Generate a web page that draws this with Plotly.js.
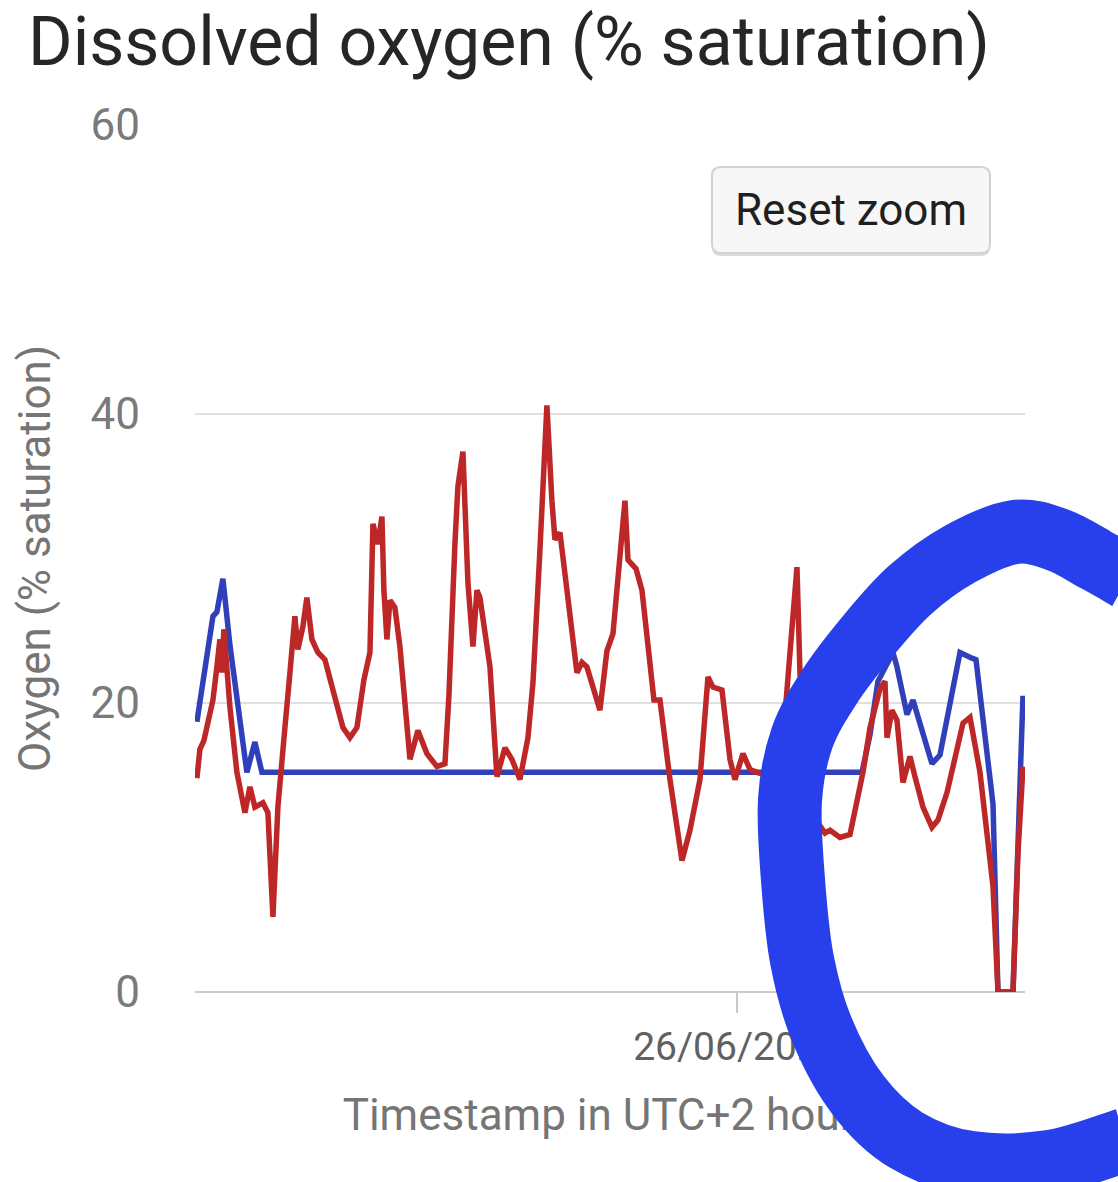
<!DOCTYPE html>
<html>
<head>
<meta charset="utf-8">
<script src="https://cdn.plot.ly/plotly-3.0.1.min.js"></script>
<style>
html,body{margin:0;padding:0;background:#fff;}
#wrap{position:relative;width:1118px;height:1182px;}
#chart,#overlay{position:absolute;left:0;top:0;width:1118px;height:1182px;}
#overlay{pointer-events:none;}
</style>
</head>
<body>
<div id="wrap"><div id="chart"></div><div id="overlay"></div></div>
<script>
// ---- data ----
const redTimes = [
"2021-06-19 11:51","2021-06-19 12:43","2021-06-19 13:52","2021-06-19 15:02","2021-06-19 16:29","2021-06-19 17:38","2021-06-19 18:30","2021-06-19 19:05","2021-06-19 19:39","2021-06-19 21:24","2021-06-19 23:25",
"2021-06-20 01:44","2021-06-20 03:11","2021-06-20 04:37","2021-06-20 06:56","2021-06-20 08:23","2021-06-20 09:50","2021-06-20 11:16","2021-06-20 12:26","2021-06-20 13:18","2021-06-20 14:45","2021-06-20 16:11","2021-06-20 17:03","2021-06-20 18:30","2021-06-20 19:39","2021-06-20 21:06","2021-06-20 22:50",
"2021-06-21 00:52","2021-06-21 03:11","2021-06-21 06:04","2021-06-21 08:06","2021-06-21 10:07","2021-06-21 12:08","2021-06-21 13:53","2021-06-21 14:45","2021-06-21 16:11","2021-06-21 17:21","2021-06-21 17:55","2021-06-21 18:47","2021-06-21 19:40","2021-06-21 21:06","2021-06-21 22:33",
"2021-06-22 01:27","2021-06-22 03:45","2021-06-22 06:21","2021-06-22 09:15","2021-06-22 11:34","2021-06-22 12:43","2021-06-22 14:27","2021-06-22 15:19","2021-06-22 16:46","2021-06-22 18:13","2021-06-22 19:40","2021-06-22 20:49","2021-06-22 21:41",
"2021-06-23 00:35","2021-06-23 02:36","2021-06-23 04:55","2021-06-23 06:56","2021-06-23 09:15","2021-06-23 11:34","2021-06-23 13:01","2021-06-23 15:02","2021-06-23 17:03","2021-06-23 18:30","2021-06-23 19:22","2021-06-23 20:49","2021-06-23 22:50",
"2021-06-24 00:35","2021-06-24 01:44","2021-06-24 03:11","2021-06-24 04:37","2021-06-24 08:23","2021-06-24 10:24","2021-06-24 12:09","2021-06-24 13:35","2021-06-24 15:37","2021-06-24 16:29","2021-06-24 18:48","2021-06-24 20:32",
"2021-06-25 00:00","2021-06-25 01:44","2021-06-25 04:38","2021-06-25 08:06","2021-06-25 10:25","2021-06-25 13:18","2021-06-25 15:37","2021-06-25 17:04","2021-06-25 19:40","2021-06-25 21:59","2021-06-25 23:25",
"2021-06-26 01:44","2021-06-26 03:46","2021-06-26 05:47","2021-06-26 08:06","2021-06-26 10:59","2021-06-26 13:18","2021-06-26 14:45","2021-06-26 15:54","2021-06-26 17:21","2021-06-26 18:13","2021-06-26 19:57","2021-06-26 22:33",
"2021-06-27 01:27","2021-06-27 02:54","2021-06-27 05:47","2021-06-27 08:41","2021-06-27 10:42","2021-06-27 12:26","2021-06-27 14:28","2021-06-27 16:29","2021-06-27 17:21","2021-06-27 18:48","2021-06-27 19:23","2021-06-27 20:49","2021-06-27 22:16",
"2021-06-28 00:00","2021-06-28 02:02","2021-06-28 03:28","2021-06-28 05:47","2021-06-28 08:23","2021-06-28 10:07","2021-06-28 12:44","2021-06-28 15:37","2021-06-28 17:21","2021-06-28 19:23","2021-06-28 20:15","2021-06-28 22:16",
"2021-06-29 02:02","2021-06-29 03:28","2021-06-29 07:49","2021-06-29 09:15","2021-06-29 10:42"
];
const redValues = [
14.8,16.8,17.4,18.6,20.2,22.5,24.4,22.1,25.1,19.7,15.2,
12.4,14.2,12.8,13.1,12.4,5.2,12.8,16.5,18.3,22.1,26.0,23.7,25.3,27.3,24.4,23.5,
23.0,20.9,18.3,17.6,18.3,21.6,23.5,32.4,31.0,32.9,27.8,24.4,27.1,26.6,23.9,
16.1,18.1,16.5,15.6,15.8,20.5,31.0,35.0,37.4,28.3,23.9,27.8,27.3,
22.5,14.9,16.9,16.1,14.7,17.6,21.4,30.6,40.6,34.0,31.3,31.8,28.0,
24.4,22.1,22.8,22.5,19.5,23.6,24.8,28.5,34.0,29.9,29.3,27.8,
20.2,20.2,14.7,9.1,11.2,14.7,21.8,21.1,20.9,16.1,14.7,
16.5,15.4,15.2,15.0,14.8,17.5,22.0,25.0,29.4,22.1,15.0,12.0,
11.0,11.2,10.7,10.9,13.3,15.2,18.3,20.2,21.0,21.5,17.6,19.5,18.8,
14.5,16.3,14.9,12.8,11.4,11.9,13.8,17.0,18.6,19.0,17.9,15.2,
7.3,0,0,9.6,15.6
];
const blueTimes = [
"2021-06-19 11:51","2021-06-19 16:29","2021-06-19 17:38","2021-06-19 19:22","2021-06-19 21:24","2021-06-19 23:42",
"2021-06-20 02:18","2021-06-20 04:37","2021-06-20 06:39",
"2021-06-27 12:09","2021-06-27 14:28","2021-06-27 16:46","2021-06-27 21:07","2021-06-27 22:16",
"2021-06-28 01:10","2021-06-28 02:54","2021-06-28 08:23","2021-06-28 10:42","2021-06-28 16:29","2021-06-28 19:57","2021-06-28 21:07",
"2021-06-29 02:02","2021-06-29 03:28","2021-06-29 07:49","2021-06-29 10:42"
];
const blueValues = [
18.7,26.0,26.3,28.6,24.0,19.5,
15.2,17.3,15.2,
15.2,17.8,21.5,23.5,22.5,
19.2,20.2,15.8,16.4,23.5,23.1,23.0,
13.0,0,0,20.5
];
const yTickValues = [0,20,40,60];
const xTickValues = ["2021-06-26 00:00"];
const xTickLabels = ["26/06/2021"];
const xRange = ["2021-06-19 11:18","2021-06-29 11:17"];

// hand-drawn marker overlay (pixel centre line of the stroke)
const circlePx = [[1128,578],[1096,560],[1058,540],[1015,532],[960,554],[910,590],[868,636],[830,686],[802,738],[790,800],[793,880],[802,960],[822,1030],[858,1095],[906,1140],[970,1163],[1050,1162],[1125,1140]];
// button box (pixels)
const btnBox = {x0: 712, y0: 167, x1: 990, y1: 253, r: 9};

const L = 195, R = 93, T = 125, B = 190, W = 1118, H = 1182;
const pw = W - L - R, ph = H - T - B;
function px2x(x){ return (x-L)/pw; }
function px2y(y){ return (H-B-y)/ph; }
function toPaper(p){ return [px2x(p[0]), px2y(p[1])]; }
function smoothPath(pts){
  const q = pts.map(toPaper);
  let d = 'M' + q[0][0] + ',' + q[0][1];
  for (let i = 0; i < q.length - 1; i++){
    const p0 = q[Math.max(0,i-1)], p1 = q[i], p2 = q[i+1], p3 = q[Math.min(q.length-1,i+2)];
    const c1 = [p1[0] + (p2[0]-p0[0])/6, p1[1] + (p2[1]-p0[1])/6];
    const c2 = [p2[0] - (p3[0]-p1[0])/6, p2[1] - (p3[1]-p1[1])/6];
    d += ' C' + c1[0] + ',' + c1[1] + ' ' + c2[0] + ',' + c2[1] + ' ' + p2[0] + ',' + p2[1];
  }
  return d;
}
function roundRect(b, dy){
  const x0=b.x0, x1=b.x1, y0=b.y0+dy, y1=b.y1+dy, r=b.r;
  const P = (x,y) => px2x(x)+','+px2y(y);
  return 'M'+P(x0+r,y0)+' L'+P(x1-r,y0)+' Q'+P(x1,y0)+' '+P(x1,y0+r)+
         ' L'+P(x1,y1-r)+' Q'+P(x1,y1)+' '+P(x1-r,y1)+
         ' L'+P(x0+r,y1)+' Q'+P(x0,y1)+' '+P(x0,y1-r)+
         ' L'+P(x0,y0+r)+' Q'+P(x0,y0)+' '+P(x0+r,y0)+' Z';
}

const traces = [
  {x: blueTimes, y: blueValues, type: 'scatter', mode: 'lines', name: 'Blue series',
   line: {color: '#3040bb', width: 5.5}, hoverinfo: 'x+y'},
  {x: redTimes, y: redValues, type: 'scatter', mode: 'lines', name: 'Red series',
   line: {color: '#be2727', width: 5.5}, hoverinfo: 'x+y'}
];

const layout = {
  width: W, height: H,
  margin: {l: L, r: R, t: T, b: B, pad: 0},
  paper_bgcolor: '#ffffff', plot_bgcolor: '#ffffff',
  showlegend: false,
  font: {family: 'Roboto, Arial, sans-serif', color: '#757575'},
  title: {text: 'Dissolved oxygen (% saturation)', x: 28/W, xanchor: 'left', xref: 'container',
          y: 1 - 17/H, yanchor: 'top', yref: 'container',
          font: {family: 'Roboto, Arial, sans-serif', size: 68, color: '#262626'}},
  xaxis: {
    type: 'date', range: xRange,
    tickvals: xTickValues, ticktext: xTickLabels,
    ticks: 'outside', ticklen: 20, tickwidth: 1.5, tickcolor: '#c8c8c8',
    showgrid: false, zeroline: false, showline: false,
    tickfont: {size: 39, color: '#616161'},
    title: {text: 'Timestamp in UTC+2 hours', standoff: 30, font: {size: 44, color: '#757575'}},
    fixedrange: true
  },
  yaxis: {
    range: [0, 60], tickvals: yTickValues,
    showgrid: true, gridcolor: '#e0e0e0', gridwidth: 2,
    zeroline: true, zerolinecolor: '#cccccc', zerolinewidth: 2.5,
    showline: false, ticks: '',
    ticklabelstandoff: 54,
    tickfont: {size: 44, color: '#7a7a7a'},
    title: {text: 'Oxygen (% saturation)', standoff: 26, font: {size: 44, color: '#757575'}},
    fixedrange: true
  },
  annotations: [{
    text: 'Reset zoom', xref: 'paper', yref: 'paper',
    x: px2x((btnBox.x0+btnBox.x1)/2), y: px2y((btnBox.y0+btnBox.y1)/2), xanchor: 'center', yanchor: 'middle',
    showarrow: false,
    font: {size: 44, color: '#1f1f1f', family: 'Roboto, Arial, sans-serif'}
  }],
  shapes: [
    {type: 'path', xref: 'paper', yref: 'paper', layer: 'above', path: roundRect(btnBox, 3),
     fillcolor: '#dcdcdc', line: {width: 0}},
    {type: 'path', xref: 'paper', yref: 'paper', layer: 'above', path: roundRect(btnBox, 0),
     fillcolor: '#f7f7f7', line: {color: '#d2d2d2', width: 2}}
  ]
};

Plotly.newPlot('chart', traces, layout, {displayModeBar: false, staticPlot: true});

// hand-drawn circle sits on top of everything, including the axis texts
const overlayLayout = {
  width: W, height: H,
  margin: {l: L, r: R, t: T, b: B, pad: 0},
  paper_bgcolor: 'rgba(0,0,0,0)', plot_bgcolor: 'rgba(0,0,0,0)',
  showlegend: false,
  xaxis: {visible: false, range: [0, 1], fixedrange: true},
  yaxis: {visible: false, range: [0, 1], fixedrange: true},
  shapes: [{type: 'path', xref: 'paper', yref: 'paper', layer: 'above', path: smoothPath(circlePx),
            line: {color: 'rgb(40,64,236)', width: 64}}]
};
Plotly.newPlot('overlay', [], overlayLayout, {displayModeBar: false, staticPlot: true});
</script>
</body>
</html>
